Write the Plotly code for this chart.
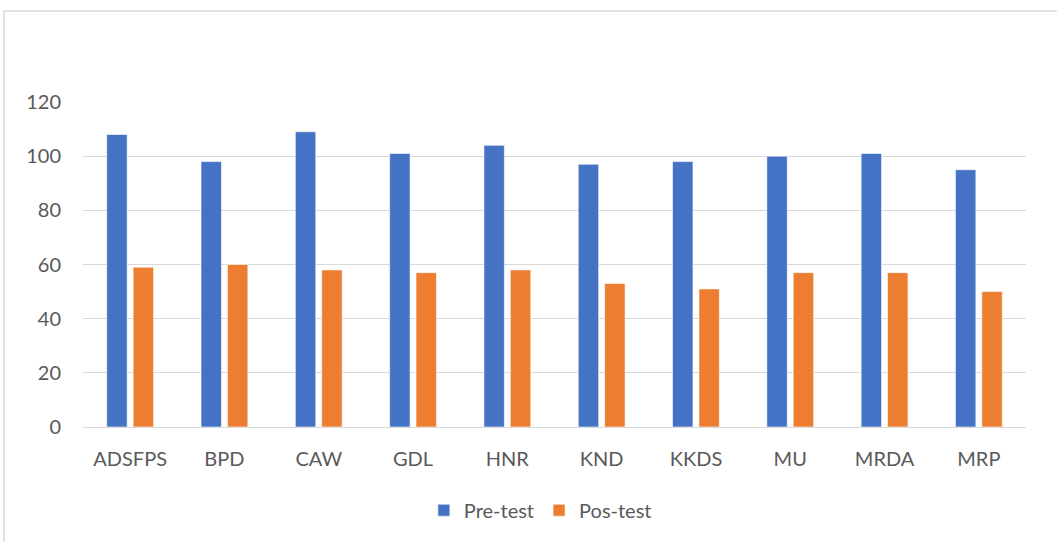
import plotly.graph_objects as go

categories = ["ADSFPS", "BPD", "CAW", "GDL", "HNR", "KND", "KKDS", "MU", "MRDA", "MRP"]
pre_test = [108, 98, 109, 101, 104, 97, 98, 100, 101, 95]
pos_test = [59, 60, 58, 57, 58, 53, 51, 57, 57, 50]
y_ticks = [0, 20, 40, 60, 80, 100, 120]

FONT = "Lato, 'Open Sans', sans-serif"
GREY = "#595959"

fig = go.Figure()
fig.add_trace(go.Bar(x=categories, y=pre_test, name="Pre-test",
                     marker=dict(color="#4472C4", line=dict(color="#ffffff", width=0.6))))
fig.add_trace(go.Bar(x=categories, y=pos_test, name="Pos-test",
                     marker=dict(color="#ED7D31", line=dict(color="#ffffff", width=0.6))))

fig.update_layout(
    width=1057, height=542,
    margin=dict(l=83, r=31, t=102, b=115),
    paper_bgcolor="white", plot_bgcolor="white",
    barmode="group", bargap=0.44, bargroupgap=0.226,
    font=dict(family=FONT, size=20, color=GREY),
    showlegend=True,
    legend=dict(orientation="h", x=0.485, xanchor="center", y=-0.196, yanchor="top",
                font=dict(family=FONT, size=20, color=GREY),
                itemwidth=30, traceorder="normal"),
    xaxis=dict(showgrid=False, showline=True, linecolor="#d9d9d9", linewidth=1,
               ticks="", ticklabelstandoff=14, tickfont=dict(size=20, color=GREY)),
    yaxis=dict(range=[0, 120], tickvals=y_ticks, showgrid=True, gridcolor="#d9d9d9",
               gridwidth=1, zeroline=False, showline=False, ticks="",
               ticklabelstandoff=21, tickfont=dict(size=20, color=GREY)),
    shapes=[dict(type="rect", xref="paper", yref="paper",
                 x0=-0.0838, x1=1.2, y0=-0.4, y1=1.28,
                 line=dict(color="#d9d9d9", width=1.5), fillcolor="rgba(0,0,0,0)",
                 layer="below")],
)

fig.write_html("out.html", config={"displayModeBar": False},
               post_script="document.body.style.margin='0px';")
